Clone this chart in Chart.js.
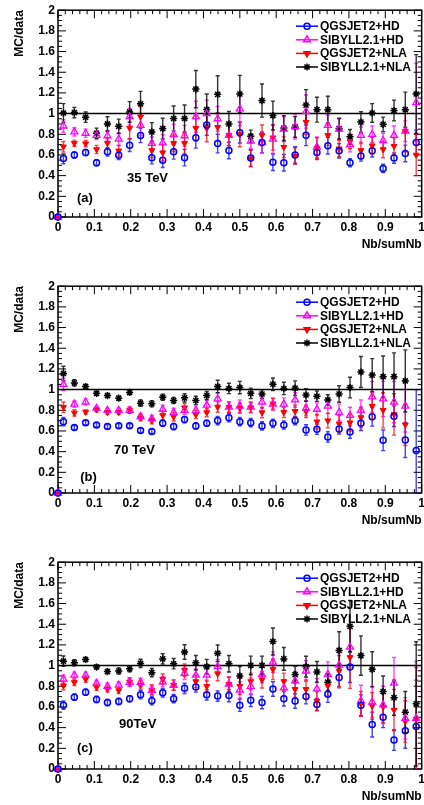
<!DOCTYPE html>
<html>
<head>
<meta charset="utf-8">
<script src="https://cdn.jsdelivr.net/npm/chart.js@4.4.1/dist/chart.umd.min.js"></script>
<style>
  html, body { margin: 0; padding: 0; background: #fff; }
  body { width: 424px; height: 805px; position: relative; overflow: hidden; }
  .panel { position: absolute; left: 0; width: 424px; height: 276px; overflow: hidden; }
</style>
</head>
<body>
<div class="panel" style="top:0"><canvas id="chartA" width="428" height="276"></canvas></div>
<div class="panel" style="top:276px"><canvas id="chartB" width="428" height="276"></canvas></div>
<div class="panel" style="top:552px"><canvas id="chartC" width="428" height="276"></canvas></div>
<script>
// bin centres of Nb/sumNb (first entry is the empty bin drawn at the origin)
const binX = [0, 0.015, 0.045, 0.076, 0.106, 0.136, 0.167, 0.197, 0.227, 0.258, 0.288, 0.318,
  0.348, 0.379, 0.409, 0.439, 0.470, 0.500, 0.530, 0.561, 0.591, 0.621, 0.652, 0.682,
  0.712, 0.742, 0.773, 0.803, 0.833, 0.864, 0.894, 0.924, 0.955, 0.985];

const seriesNames = ['QGSJET2+HD', 'SIBYLL2.1+HD', 'QGSJET2+NLA', 'SIBYLL2.1+NLA'];

// (a) 35 TeV
const qgsHD35 = [0, 0.565, 0.60, 0.624, 0.524, 0.63, 0.596, 0.694, 0.789, 0.574, 0.549, 0.63, 0.574, 0.766, 0.89, 0.71, 0.643, 0.815, 0.57, 0.72, 0.53, 0.525, 0.60, 0.79, 0.625, 0.69, 0.64, 0.525, 0.59, 0.64, 0.47, 0.57, 0.615, 0.72];
const qgsHD35Err = [0, .05, .03, .03, .03, .04, .04, .06, .07, .06, .07, .07, .08, .1, .1, .09, .08, .1, .08, .1, .08, .08, .08, .1, .07, .08, .07, .04, .05, .06, .04, .05, .08, .12];
const sibHD35 = [0, 0.88, 0.823, 0.81, 0.79, 0.786, 0.754, 0.97, 0.887, 0.713, 0.716, 0.798, 0.786, 0.97, 1.0, 0.95, 0.79, 1.045, 0.735, 0.72, 0.754, 0.85, 0.874, 1.02, 0.675, 0.887, 0.85, 0.70, 0.79, 0.80, 0.74, 0.79, 0.83, 1.107];
const sibHD35Err = [0, .06, .04, .04, .04, .05, .06, .08, .1, .06, .08, .1, .1, .15, .13, .12, .1, .16, .07, .1, .14, .12, .12, .16, .1, .1, .1, .07, .08, .08, .07, .09, .1, .38];
const qgsNLA35 = [0, 0.68, 0.713, 0.71, 0.653, 0.713, 0.64, 0.86, 0.969, 0.644, 0.622, 0.713, 0.713, 0.858, 0.858, 0.868, 0.79, 0.80, 0.565, 0.79, 0.767, 0.675, 0.59, 0.918, 0.666, 0.79, 0.66, 0.73, 0.644, 0.69, 0.653, 0.685, 0.83, 0.60];
const qgsNLA35Err = [0, .05, .03, .03, .04, .05, .05, .1, .1, .07, .08, .08, .1, .12, .13, .13, .1, .12, .08, .1, .12, .1, .08, .12, .1, .1, .08, .07, .08, .08, .08, .08, .2, .2];
const sibNLA35 = [0, 1.006, 1.01, 0.965, 0.81, 0.90, 0.877, 1.016, 1.095, 0.823, 0.855, 0.953, 0.953, 1.237, 1.04, 1.186, 0.90, 1.19, 0.78, 1.126, 0.981, 0.86, 0.871, 1.082, 1.038, 1.038, 0.855, 0.776, 0.918, 1.006, 0.896, 1.03, 1.038, 1.19];
const sibNLA35Err = [0, .09, .05, .05, .05, .07, .07, .1, .12, .09, .1, .12, .13, .18, .15, .18, .12, .18, .06, .16, .14, .12, .1, .15, .12, .13, .1, .07, .1, .09, .07, .1, .17, .38];

// (b) 70 TeV
const qgsHD70 = [0, 0.69, 0.633, 0.68, 0.658, 0.642, 0.65, 0.65, 0.605, 0.595, 0.674, 0.642, 0.71, 0.649, 0.674, 0.70, 0.728, 0.69, 0.68, 0.649, 0.674, 0.658, 0.70, 0.61, 0.617, 0.542, 0.62, 0.589, 0.674, 0.737, 0.51, 0.743, 0.513, 0.41];
const qgsHD70Err = [0, .04, .02, .02, .02, .02, .02, .02, .02, .02, .03, .03, .03, .03, .03, .04, .04, .04, .04, .04, .04, .04, .04, .05, .05, .05, .05, .06, .07, .09, .1, .1, .17, .59];
const sibHD70 = [0, 1.05, 0.86, 0.88, 0.82, 0.80, 0.80, 0.80, 0.74, 0.72, 0.81, 0.78, 0.80, 0.80, 0.85, 0.91, 0.83, 0.84, 0.83, 0.88, 0.86, 0.86, 0.90, 0.82, 0.81, 0.84, 0.78, 0.75, 0.80, 0.93, 0.91, 0.88, 0.84, null];
const sibHD70Err = [0, .06, .03, .03, .02, .02, .02, .03, .03, .03, .04, .04, .04, .04, .05, .06, .05, .06, .05, .06, .06, .06, .07, .07, .06, .07, .08, .08, .1, .15, .17, .2, .25, 0];
const qgsNLA70 = [0, 0.83, 0.775, 0.784, 0.806, 0.78, 0.78, 0.80, 0.728, 0.699, 0.75, 0.737, 0.825, 0.759, 0.778, 0.831, 0.831, 0.82, 0.825, 0.778, 0.863, 0.78, 0.79, 0.79, 0.69, 0.70, 0.67, 0.68, 0.73, 0.84, 0.80, 0.76, 0.66, null];
const qgsNLA70Err = [0, .05, .03, .02, .02, .02, .02, .03, .03, .03, .04, .04, .04, .04, .04, .05, .05, .05, .05, .05, .05, .05, .06, .06, .07, .07, .08, .08, .1, .13, .17, .2, .2, 0];
const sibNLA70 = [0, 1.156, 1.065, 1.03, 0.964, 0.942, 0.917, 0.973, 0.869, 0.863, 0.926, 0.895, 0.92, 0.895, 0.942, 1.03, 1.011, 1.02, 0.964, 0.957, 1.052, 1.011, 1.014, 0.948, 0.936, 0.90, 0.957, 1.02, 1.17, 1.14, 1.125, 1.125, 1.084, null];
const sibNLA70Err = [0, .07, .03, .02, .02, .02, .02, .02, .03, .03, .03, .03, .04, .04, .04, .06, .05, .06, .05, .04, .06, .06, .07, .06, .05, .05, .08, .1, .15, .16, .2, .23, .3, 0];

// (c) 90 TeV
const qgsHD90 = [0, 0.617, 0.695, 0.743, 0.673, 0.642, 0.654, 0.68, 0.718, 0.66, 0.737, 0.68, 0.78, 0.793, 0.718, 0.705, 0.71, 0.617, 0.664, 0.642, 0.774, 0.68, 0.658, 0.70, 0.623, 0.724, 0.885, 0.986, 0.617, 0.43, 0.50, 0.28, 0.37, 0.41];
const qgsHD90Err = [0, .04, .03, .03, .03, .03, .03, .03, .04, .04, .04, .04, .05, .05, .05, .05, .06, .06, .06, .06, .07, .07, .07, .07, .06, .08, .1, .15, .1, .12, .1, .1, .17, .45];
const sibHD90 = [0, 0.869, 0.907, 0.907, 0.828, 0.80, 0.812, 0.838, 0.838, 0.76, 0.843, 0.81, 0.926, 0.907, 0.907, 0.99, 0.82, 0.764, 0.80, 0.913, 1.033, 0.784, 0.853, 0.948, 0.774, 0.916, 1.005, 1.18, 0.66, 0.648, 0.62, 0.83, 0.49, 0.49];
const sibHD90Err = [0, .04, .03, .03, .03, .03, .03, .04, .04, .04, .05, .05, .06, .06, .06, .07, .07, .08, .08, .08, .1, .08, .09, .1, .1, .12, .15, .2, .15, .15, .18, .25, .2, .55];
const qgsNLA90 = [0, 0.806, 0.838, 0.869, 0.79, 0.774, 0.759, 0.844, 0.812, 0.765, 0.869, 0.812, 0.955, 0.847, 0.80, 0.923, 0.82, 0.80, 0.847, 0.863, 0.964, 0.847, 0.771, 0.771, 0.658, 0.806, 0.948, 1.08, 0.63, 0.61, 0.60, 0.57, 0.46, 0.48];
const qgsNLA90Err = [0, .04, .03, .03, .03, .03, .03, .04, .04, .05, .05, .05, .06, .06, .06, .07, .07, .08, .08, .08, .1, .08, .08, .09, .09, .1, .15, .3, .12, .13, .15, .2, .2, .5];
const sibNLA90 = [0, 1.043, 1.027, 1.059, 0.986, 0.942, 0.948, 0.97, 1.021, 0.932, 1.065, 1.018, 1.131, 1.027, 0.99, 1.119, 1.018, 0.90, 1.002, 1.002, 1.233, 1.065, 0.913, 0.99, 0.939, 0.84, 1.147, 1.38, 1.097, 0.964, 0.749, 0.69, 0.55, 0.63];
const sibNLA90Err = [0, .05, .03, .02, .02, .02, .03, .03, .04, .04, .05, .05, .07, .07, .07, .08, .08, .09, .09, .09, .13, .11, .08, .1, .1, .08, .18, .25, .19, .17, .15, .17, .2, .6];

const FONT = '"Liberation Sans", Arial, Helvetica, sans-serif';

// marker styles, ROOT-like
const styles = [
    { color: '#0000ff', err: 'rgba(0,0,255,0.75)', pointStyle: 'circle', radius: 3, fill: 'rgba(0,0,0,0)', rotation: 0, bw: 1.5 },
    { color: '#ff00ff', err: 'rgba(255,0,255,0.75)', pointStyle: 'triangle', radius: 4, fill: 'rgba(0,0,0,0)', rotation: 0, bw: 1.3 },
    { color: '#ff0000', err: 'rgba(255,0,0,0.75)', pointStyle: 'triangle', radius: 3.4, fill: '#ff0000', rotation: 180, bw: 1 },
    { color: '#000000', err: 'rgba(0,0,0,0.8)', pointStyle: 'star', radius: 3.6, fill: 'rgba(0,0,0,0)', rotation: 0, bw: 1.5 }
];

// plain tick text like ROOT: 1 not 1.0
function tickText(v) {
    return String(Math.round(v * 100) / 100);
}

// frame with inward ticks on all four sides
const framePlugin = {
    id: 'frame',
    beforeDatasetsDraw(chart) {
        const { ctx, chartArea: a, scales } = chart;
        const xs = scales.x, ys = scales.y;
        ctx.save();
        ctx.strokeStyle = '#000';
        ctx.lineWidth = 1;
        ctx.beginPath();
        for (let i = 0; i <= 40; i++) {
            const py = ys.getPixelForValue(i * 0.05);
            const len = i % 4 === 0 ? 8 : 4;
            ctx.moveTo(a.left, py); ctx.lineTo(a.left + len, py);
            ctx.moveTo(a.right, py); ctx.lineTo(a.right - len, py);
        }
        for (let i = 0; i <= 50; i++) {
            const px = xs.getPixelForValue(i * 0.02);
            const len = i % 5 === 0 ? 8 : 4;
            ctx.moveTo(px, a.bottom); ctx.lineTo(px, a.bottom - len);
            ctx.moveTo(px, a.top); ctx.lineTo(px, a.top + len);
        }
        ctx.stroke();
        ctx.lineWidth = 1.5;
        ctx.strokeRect(a.left, a.top, a.right - a.left, a.bottom - a.top);
        ctx.restore();
    }
};

const errorBarPlugin = {
    id: 'errorBars',
    beforeDatasetsDraw(chart) {
        const { ctx, chartArea: a } = chart;
        const ys = chart.scales.y;
        ctx.save();
        ctx.beginPath();
        ctx.rect(a.left, a.top, a.right - a.left, a.bottom - a.top);
        ctx.clip();
        chart.data.datasets.forEach((ds, i) => {
            if (!ds.errors) return;
            const meta = chart.getDatasetMeta(i);
            ctx.strokeStyle = ds.errorColor;
            ctx.lineWidth = 1.4;
            ds.data.forEach((pt, j) => {
                const e = ds.errors[j];
                if (pt.y == null || !e) return;
                const px = meta.data[j].x;
                const top = ys.getPixelForValue(pt.y + e);
                const bot = ys.getPixelForValue(pt.y - e);
                ctx.beginPath();
                ctx.moveTo(px, top); ctx.lineTo(px, bot);
                ctx.moveTo(px - 2, top); ctx.lineTo(px + 2, top);
                ctx.moveTo(px - 2, bot); ctx.lineTo(px + 2, bot);
                ctx.stroke();
            });
        });
        ctx.restore();
    }
};

// legend + panel labels
const labelPlugin = {
    id: 'labels',
    afterDraw(chart, args, opts) {
        const { ctx, chartArea: a, scales } = chart;
        ctx.save();
        ctx.font = 'bold 12px ' + FONT;
        ctx.textBaseline = 'middle';
        ctx.textAlign = 'left';
        styles.forEach((s, i) => {
            const y = a.top + 16 + i * 13.6;
            ctx.strokeStyle = s.color;
            ctx.lineWidth = 1.5;
            ctx.beginPath();
            ctx.moveTo(296, y); ctx.lineTo(318, y);
            ctx.stroke();
            ctx.fillStyle = s.fill;
            Chart.helpers.drawPoint(ctx, {
                pointStyle: s.pointStyle, radius: s.radius, rotation: s.rotation, borderWidth: s.bw
            }, 307, y);
            ctx.fillStyle = '#000';
            ctx.fillText(seriesNames[i], 320, y + 0.5);
        });
        ctx.font = 'bold 13px ' + FONT;
        opts.notes.forEach(n => {
            ctx.fillText(n.text, scales.x.getPixelForValue(n.x), scales.y.getPixelForValue(n.y));
        });
        ctx.restore();
    }
};

function makeChart(id, values, errors, notes) {
    const datasets = values.map((vals, i) => {
        const s = styles[i];
        return {
            label: seriesNames[i],
            data: binX.map((x, j) => ({ x: x, y: vals[j] })),
            errors: errors[i],
            errorColor: s.err,
            showLine: false,
            pointStyle: s.pointStyle,
            pointRadius: s.radius,
            pointRotation: s.rotation,
            pointBorderWidth: s.bw,
            borderColor: s.color,
            backgroundColor: s.fill,
            clip: false
        };
    });
    datasets.push({
        type: 'line',
        label: 'unity',
        data: [{ x: 0, y: 1 }, { x: 1, y: 1 }],
        borderColor: '#000',
        borderWidth: 1.5,
        pointRadius: 0
    });

    return new Chart(document.getElementById(id), {
        type: 'scatter',
        data: { datasets: datasets },
        options: {
            responsive: false,
            animation: false,
            devicePixelRatio: 1,
            layout: { padding: { top: 8.5, left: 0, right: 0, bottom: 24.2 } },
            plugins: {
                legend: { display: false },
                tooltip: { enabled: false },
                labels: { notes: notes }
            },
            scales: {
                x: {
                    type: 'linear', min: 0, max: 1,
                    grid: { display: false, drawTicks: false },
                    border: { display: false },
                    ticks: { stepSize: 0.1, padding: 3, color: '#000', maxRotation: 0,
                        callback: tickText,
                        font: { family: FONT, size: 12, weight: 'bold' } },
                    title: { display: true, text: 'Nb/sumNb', align: 'end', color: '#000',
                        padding: 0, font: { family: FONT, size: 12, weight: 'bold' } }
                },
                y: {
                    type: 'linear', min: 0, max: 2,
                    grid: { display: false, drawTicks: false },
                    border: { display: false },
                    ticks: { stepSize: 0.2, padding: 3, color: '#000',
                        callback: tickText,
                        font: { family: FONT, size: 12, weight: 'bold' } },
                    title: { display: true, text: 'MC/data', align: 'end', color: '#000',
                        padding: { top: 12.8, bottom: 0 }, font: { family: FONT, size: 12, weight: 'bold' } },
                    afterFit(scale) { scale.width = 58; }
                }
            }
        },
        plugins: [framePlugin, errorBarPlugin, labelPlugin]
    });
}

makeChart('chartA',
    [qgsHD35, sibHD35, qgsNLA35, sibNLA35],
    [qgsHD35Err, sibHD35Err, qgsNLA35Err, sibNLA35Err],
    [{ text: '35 TeV', x: 0.19, y: 0.376 }, { text: '(a)', x: 0.052, y: 0.175 }]);

makeChart('chartB',
    [qgsHD70, sibHD70, qgsNLA70, sibNLA70],
    [qgsHD70Err, sibHD70Err, qgsNLA70Err, sibNLA70Err],
    [{ text: '70 TeV', x: 0.154, y: 0.41 }, { text: '(b)', x: 0.061, y: 0.155 }]);

makeChart('chartC',
    [qgsHD90, sibHD90, qgsNLA90, sibNLA90],
    [qgsHD90Err, sibHD90Err, qgsNLA90Err, sibNLA90Err],
    [{ text: '90TeV', x: 0.168, y: 0.427 }, { text: '(c)', x: 0.052, y: 0.2 }]);
</script>
</body>
</html>
